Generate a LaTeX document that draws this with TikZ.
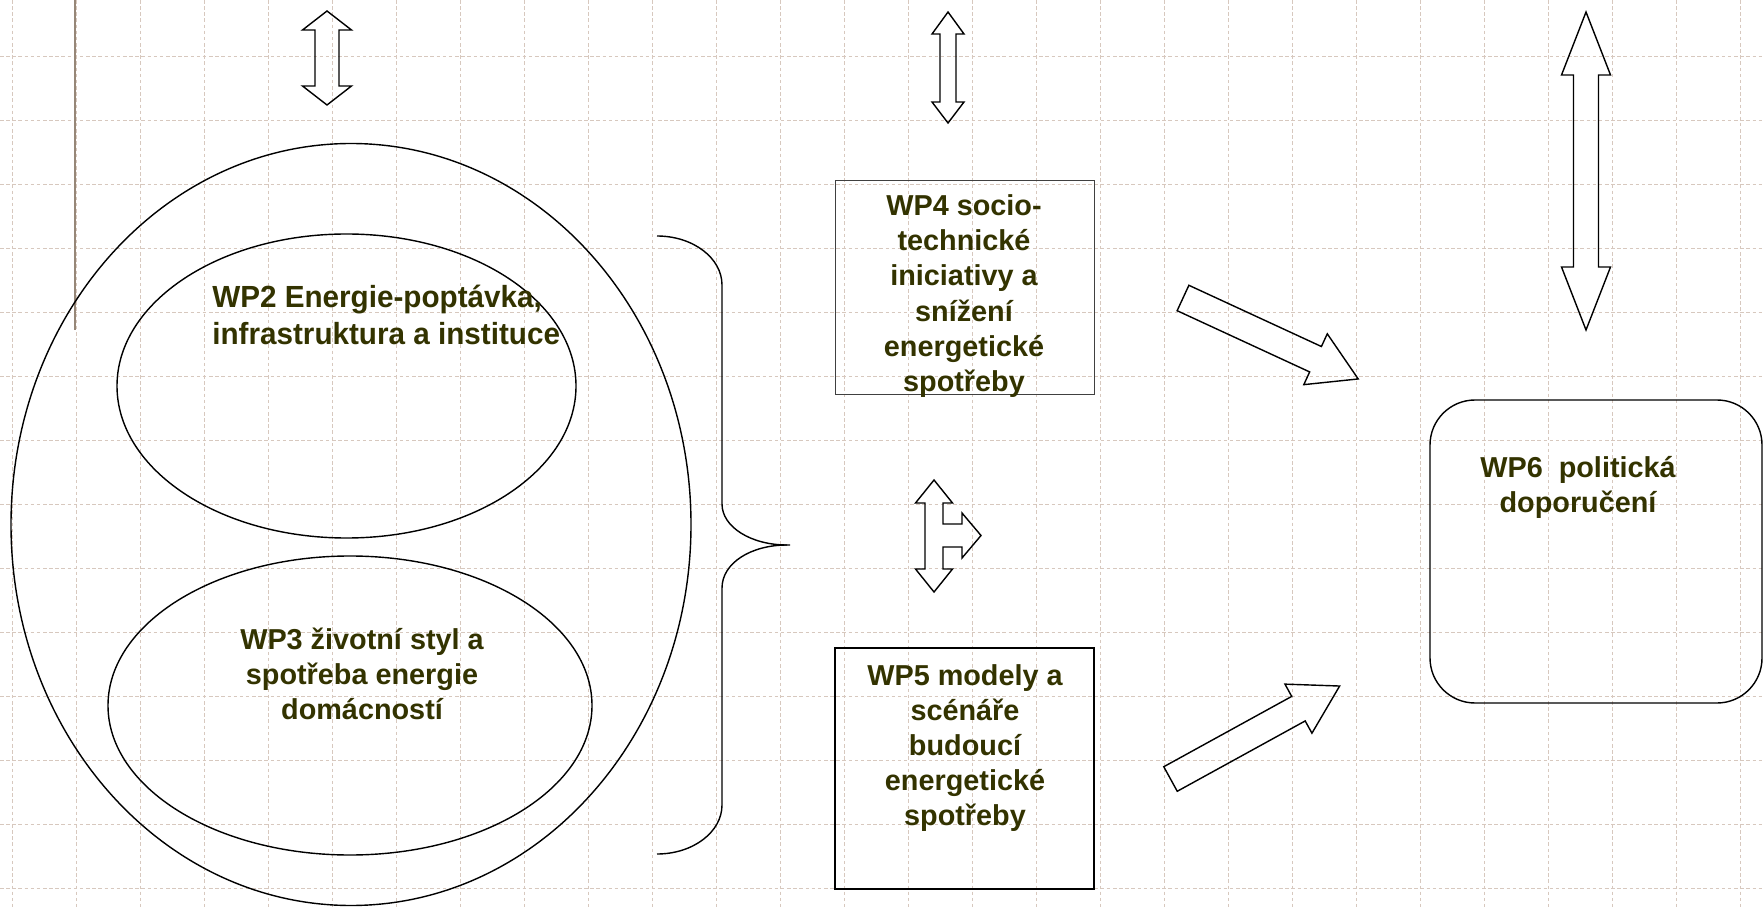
\documentclass[tikz,border=0pt]{standalone}
\usepackage{fontspec}
\setmainfont{Liberation Sans}
\newfontfamily\narrowsans[FakeStretch=0.97]{Liberation Sans}
\definecolor{wptext}{RGB}{51,51,0}
\definecolor{gridc}{RGB}{215,200,190}
\definecolor{rulec}{RGB}{150,135,120}
\begin{document}
\begin{tikzpicture}[x=0.02cm,y=-0.02cm]
	\tikzstyle{gridline}=[draw=gridc, line width=0.5pt, dash pattern=on 2pt off 1.5pt]
	\tikzstyle{outline}=[draw=black, line width=0.8pt, line join=miter]
	\tikzstyle{wplabel}=[font=\fontsize{16.4}{20}\selectfont\bfseries, text=wptext, align=center, inner sep=0pt]

	\useasboundingbox (0,0) rectangle (1764,908);
	\fill[white] (0,0) rectangle (1764,908);

	\foreach \i in {0,...,27} \draw[gridline] (12+64*\i,0) -- (12+64*\i,908);
	\foreach \j in {0,...,13} \draw[gridline] (0,56+64*\j) -- (1764,56+64*\j);
	\draw[rulec, line width=0.7pt] (75,0) -- (75,330);

	\draw[outline] (351,524.5) ellipse [x radius=340, y radius=381];
	\draw[outline] (346.5,386) ellipse [x radius=229.5, y radius=152];
	\draw[outline] (350,705.5) ellipse [x radius=242, y radius=149.5];

	\draw[outline] (657,236) .. controls (693,236) and (722,258) .. (722,285) -- (722,504)
		.. controls (722,527) and (751,545) .. (787,545) -- (790,545);
	\draw[outline] (787,545) .. controls (751,545) and (722,563) .. (722,588) -- (722,805)
		.. controls (722,832) and (693,854) .. (657,854);

	\draw[draw=black!75, line width=0.4pt] (835,180) rectangle (1094,394);
	\draw[black, line width=1pt] (835,648) rectangle (1094,889);
	\draw[outline, rounded corners=0.9cm] (1430,400) rectangle (1762,703);

	\node[wplabel, font=\narrowsans\fontsize{17.4}{21.4}\selectfont\bfseries, align=left, anchor=west] (wp2) at (212,315) {WP2 Energie-poptávka,\\infrastruktura a instituce};
	\node[wplabel] (wp3) at (362,674) {WP3 životní styl a\\spotřeba energie\\domácností};
	\node[wplabel] (wp4) at (964,296) {WP4 socio-\\technické\\iniciativy a\\snížení\\energetické\\spotřeby};
	\node[wplabel] (wp5) at (965,748) {WP5 modely a\\scénáře\\budoucí\\energetické\\spotřeby};
	\node[wplabel] (wp6) at (1578,487) {WP6\ \ politická\\doporučení};

	\draw[outline] (327,11) -- (351.5,30) -- (339,30) -- (339,86) -- (351.5,86) -- (327,105)
		-- (302.5,86) -- (315,86) -- (315,30) -- (302.5,30) -- cycle;
	\draw[outline] (948,12) -- (964,34) -- (956,34) -- (956,102) -- (964,102) -- (948,123)
		-- (932,102) -- (940,102) -- (940,34) -- (932,34) -- cycle;
	\draw[outline] (1586,12) -- (1610.5,75) -- (1598.5,75) -- (1598.5,267) -- (1610.5,267) -- (1586,330)
		-- (1561.5,267) -- (1573.5,267) -- (1573.5,75) -- (1561.5,75) -- cycle;

	\draw[outline] (934,480) -- (952.5,503) -- (943,503) -- (943,524) -- (962,524) -- (962,513)
		-- (981,535.5) -- (962,558) -- (962,547) -- (943,547) -- (943,569) -- (952.5,569)
		-- (934,592) -- (915.5,569) -- (925,569) -- (925,503) -- (915.5,503) -- cycle;

	\begin{scope}[shift={(1183,298)}, rotate=-24.8]
		\draw[outline] (0,-14) -- (146,-14) -- (146,-28) -- (193,0) -- (146,28) -- (146,14) -- (0,14) -- cycle;
	\end{scope}
	\begin{scope}[shift={(1170.5,779)}, rotate=28.8]
		\draw[outline] (0,-14) -- (146,-14) -- (146,-28) -- (193,0) -- (146,28) -- (146,14) -- (0,14) -- cycle;
	\end{scope}
\end{tikzpicture}
\end{document}
